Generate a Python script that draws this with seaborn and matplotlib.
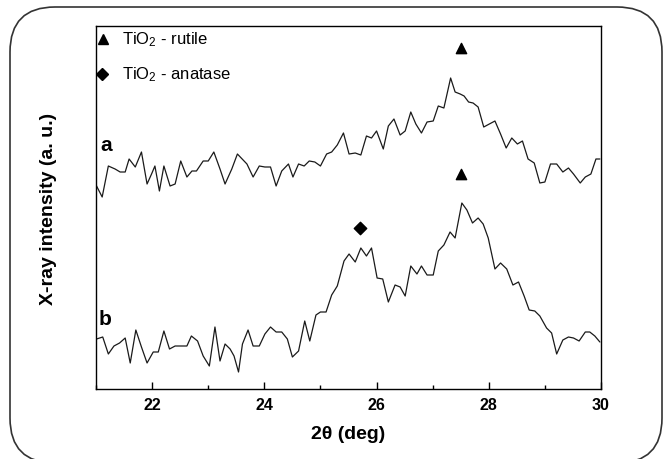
import matplotlib
matplotlib.use("Agg")
import matplotlib.pyplot as plt
import matplotlib.patches as mpatches
import matplotlib.transforms as mtransforms
from matplotlib.ticker import MultipleLocator
import pandas as pd
import seaborn as sns

# pattern a (upper curve)
theta_a = [21.01, 21.11, 21.22, 21.34, 21.43, 21.52, 21.59, 21.70, 21.81, 21.91,
           21.99, 22.05, 22.13, 22.21, 22.32, 22.41, 22.51, 22.62, 22.71, 22.79,
           22.91, 23.00, 23.10, 23.21, 23.30, 23.42, 23.52, 23.69, 23.80, 23.91,
           24.01, 24.11, 24.21, 24.31, 24.43, 24.51, 24.61, 24.71, 24.80, 24.90,
           25.00, 25.11, 25.20, 25.30, 25.41, 25.51, 25.62, 25.72, 25.82, 25.91,
           26.00, 26.12, 26.21, 26.31, 26.42, 26.51, 26.61, 26.70, 26.80, 26.90,
           27.01, 27.10, 27.20, 27.32, 27.40, 27.49, 27.56, 27.64, 27.72, 27.81,
           27.91, 28.01, 28.11, 28.21, 28.31, 28.41, 28.51, 28.60, 28.70, 28.81,
           28.91, 29.00, 29.10, 29.21, 29.32, 29.42, 29.51, 29.63, 29.72, 29.82,
           29.91, 29.98]
int_a = [203, 192, 223, 220, 217, 217, 230, 222, 237, 205,
         215, 223, 198, 223, 203, 205, 228, 212, 218, 218,
         228, 228, 237, 220, 205, 220, 235, 225, 212, 223,
         222, 222, 203, 218, 225, 212, 225, 223, 228, 227,
         223, 235, 237, 244, 256, 235, 236, 234, 253, 251,
         258, 240, 263, 270, 254, 258, 277, 265, 256, 267,
         268, 283, 281, 311, 297, 295, 293, 287, 286, 282,
         262, 265, 268, 255, 241, 251, 245, 248, 230, 226,
         206, 207, 225, 225, 217, 221, 215, 206, 212, 215,
         230, 230]

# pattern b (lower curve)
theta_b = [21.01, 21.12, 21.22, 21.32, 21.42, 21.52, 21.61, 21.71, 21.81, 21.91,
           22.02, 22.11, 22.21, 22.31, 22.41, 22.51, 22.62, 22.70, 22.81, 22.91,
           23.02, 23.12, 23.21, 23.30, 23.39, 23.46, 23.54, 23.61, 23.71, 23.80,
           23.91, 24.01, 24.11, 24.21, 24.31, 24.41, 24.50, 24.61, 24.72, 24.81,
           24.92, 25.00, 25.10, 25.20, 25.30, 25.42, 25.51, 25.62, 25.72, 25.82,
           25.91, 26.01, 26.11, 26.21, 26.33, 26.42, 26.51, 26.61, 26.72, 26.80,
           26.90, 27.01, 27.10, 27.20, 27.31, 27.40, 27.52, 27.61, 27.71, 27.81,
           27.90, 27.99, 28.11, 28.21, 28.32, 28.43, 28.53, 28.63, 28.72, 28.82,
           28.91, 29.03, 29.12, 29.21, 29.32, 29.42, 29.51, 29.61, 29.72, 29.80,
           29.89, 29.98]
int_b = [50, 52, 35, 43, 46, 51, 26, 59, 42, 26,
         37, 37, 58, 40, 43, 43, 43, 53, 48, 33,
         23, 62, 28, 45, 40, 33, 17, 45, 59, 43,
         43, 55, 62, 57, 57, 50, 32, 38, 68, 48,
         74, 77, 77, 94, 103, 128, 135, 127, 141, 133,
         141, 111, 110, 87, 104, 102, 93, 123, 115, 123,
         114, 114, 138, 144, 157, 151, 186, 179, 166, 171,
         165, 151, 120, 126, 120, 104, 107, 93, 79, 78,
         73, 61, 56, 35, 49, 52, 51, 48, 57, 57,
         53, 47]

# phase markers
rutile_x = [27.5, 27.5]
rutile_y = [341, 215]
anatase_x = [25.7]
anatase_y = [161]

sns.set_style("white")
plt.rcParams['font.family'] = ['Liberation Sans', 'DejaVu Sans']
plt.rcParams['mathtext.fontset'] = 'custom'
plt.rcParams['mathtext.rm'] = 'Liberation Sans'
plt.rcParams['mathtext.it'] = 'Liberation Sans'
plt.rcParams['text.color'] = 'black'
plt.rcParams['axes.labelcolor'] = 'black'
plt.rcParams['xtick.color'] = 'black'

fig = plt.figure(figsize=(6.64, 4.60), dpi=100)
ax = fig.add_axes([96 / 664, 70 / 460, 505 / 664, 363 / 460])

df_a = pd.DataFrame({"theta": theta_a, "intensity": int_a})
df_b = pd.DataFrame({"theta": theta_b, "intensity": int_b})
sns.lineplot(data=df_a, x="theta", y="intensity", ax=ax, color="#1a1a1a", lw=0.9, sort=False)
sns.lineplot(data=df_b, x="theta", y="intensity", ax=ax, color="#1a1a1a", lw=0.9, sort=False)

ax.scatter(rutile_x, rutile_y, marker="^", s=55, color="black", zorder=3)
ax.scatter(anatase_x, anatase_y, marker="D", s=40, color="black", zorder=3)

# legend drawn by hand
ax.plot([0.014], [0.964], marker="^", ms=7.5, color="black", transform=ax.transAxes, clip_on=False)
ax.plot([0.012], [0.868], marker="D", ms=6, color="black", transform=ax.transAxes, clip_on=False)
ax.text(0.051, 0.964, "TiO$_2$ - rutile", transform=ax.transAxes, fontsize=12, va="center")
ax.text(0.051, 0.868, "TiO$_2$ - anatase", transform=ax.transAxes, fontsize=12, va="center")

ax.text(21.18, 244, "a", fontsize=15, fontweight="bold", va="center", ha="center")
ax.text(21.16, 70, "b", fontsize=15, fontweight="bold", va="center", ha="center")

ax.set_xlim(21, 30)
ax.set_ylim(0, 363)
ax.set_yticks([])
ax.xaxis.set_major_locator(MultipleLocator(2))
ax.xaxis.set_minor_locator(MultipleLocator(1))
ax.tick_params(axis="x", which="major", direction="in", length=5, width=1, bottom=True,
               labelsize=11.5, pad=6)
ax.tick_params(axis="x", which="minor", direction="in", length=3, width=1, bottom=True)
ax.set_xticks([22, 24, 26, 28, 30])
ax.set_xticklabels(["22", "24", "26", "28", "30"], fontweight="bold")
for sp in ax.spines.values():
    sp.set_color("black")
    sp.set_linewidth(1.0)

ax.set_xlabel("2\u03b8 (deg)", fontsize=14, fontweight="bold", labelpad=9)
ax.set_ylabel("X-ray intensity (a. u.)", fontsize=14, fontweight="bold", labelpad=28)

# rounded frame around the whole figure
frame = mpatches.FancyBboxPatch((10, -4), 652, 456,
                                boxstyle="round,pad=0,rounding_size=45",
                                transform=mtransforms.IdentityTransform(),
                                fill=False, edgecolor="#333333", lw=1.2)
fig.add_artist(frame)

fig.savefig("out.png", dpi=100)
